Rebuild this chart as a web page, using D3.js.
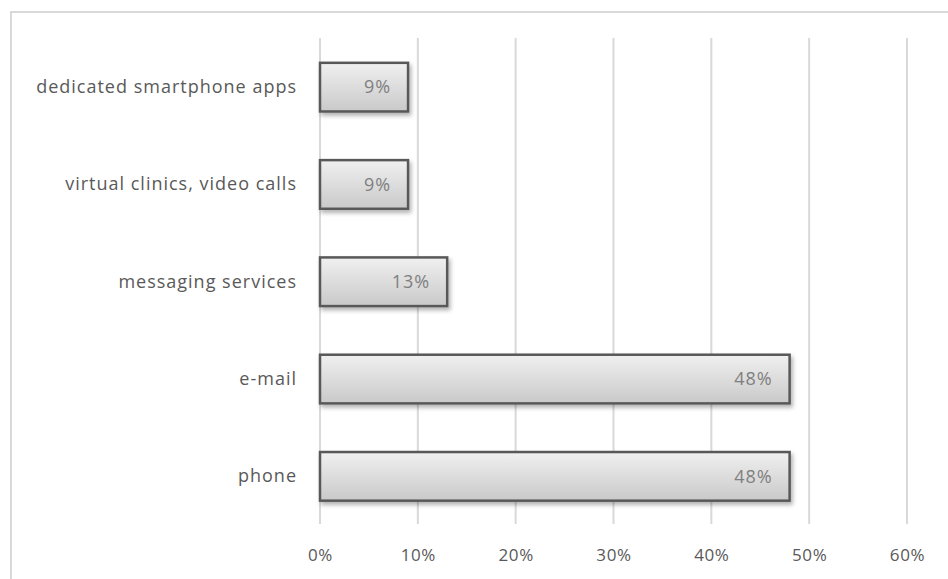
<!DOCTYPE html>
<html><head><meta charset="utf-8">
<script src="https://cdn.jsdelivr.net/npm/d3@7"></script>
<style>
html,body{margin:0;padding:0;background:#fff;overflow:hidden;}
svg{display:block;}
</style></head>
<body>
<script>
const categories = ["dedicated smartphone apps","virtual clinics, video calls","messaging services","e-mail","phone"];
const values = [9, 9, 13, 48, 48];
const tickValues = [0, 10, 20, 30, 40, 50, 60];
const valueLabels = ["9%","9%","13%","48%","48%"];

const W = 948, H = 579;
const svg = d3.select("body").append("svg").attr("width", W).attr("height", H);
const defs = svg.append("defs");
const grad = defs.append("linearGradient").attr("id","barGrad").attr("x1",0).attr("x2",0).attr("y1",0).attr("y2",1);
grad.append("stop").attr("offset","0%").attr("stop-color","#f0f0f0");
grad.append("stop").attr("offset","100%").attr("stop-color","#c9c9c9");
const f = defs.append("filter").attr("id","shadow").attr("x","-5%").attr("y","-20%").attr("width","115%").attr("height","160%");
f.append("feDropShadow").attr("dx",2).attr("dy",3).attr("stdDeviation",2).attr("flood-color","#000").attr("flood-opacity",0.3);

// outer frame
svg.append("rect").attr("x",11).attr("y",12).attr("width",W).attr("height",H)
  .attr("fill","none").attr("stroke","#d9d9d9").attr("stroke-width",2);

const x = d3.scaleLinear().domain([0,60]).range([320, 907]);
const y = d3.scaleBand().domain(categories).range([38.5, 525]).paddingInner(0.5).paddingOuter(0.25);

const font = "'Open Sans', sans-serif";

// gridlines
svg.append("g").selectAll("line").data(tickValues).join("line")
  .attr("x1", d => x(d)).attr("x2", d => x(d))
  .attr("y1", 38).attr("y2", 524)
  .attr("stroke", "#d9d9d9").attr("stroke-width", 2);

// x axis labels
const xAxis = d3.axisBottom(x).tickValues(tickValues).tickFormat(d => d + "%").tickSize(0);
const gx = svg.append("g").attr("transform", "translate(0,546)").call(xAxis);
gx.select(".domain").remove();
gx.selectAll("text").attr("fill","#595959").style("font-family",font).style("font-size","17px").style("letter-spacing","0.6px");

// y axis labels
const yAxis = d3.axisLeft(y).tickSize(0);
const gy = svg.append("g").attr("transform","translate(297,0)").call(yAxis);
gy.select(".domain").remove();
gy.selectAll("text").attr("fill","#595959").style("font-family",font).style("font-size","18px").style("letter-spacing","1px").attr("dy","0.32em").attr("x",0);

// bars
const bars = svg.append("g");
bars.selectAll("rect").data(categories).join("rect")
  .attr("x", x(0))
  .attr("y", d => y(d))
  .attr("width", (d,i) => x(values[i]) - x(0))
  .attr("height", y.bandwidth())
  .attr("fill", "url(#barGrad)")
  .attr("stroke", "#595959").attr("stroke-width", 2.5)
  .attr("filter", "url(#shadow)");

// value labels
svg.append("g").selectAll("text").data(categories).join("text")
  .attr("x", (d,i) => x(values[i]) - 17)
  .attr("y", d => y(d) + y.bandwidth()/2)
  .attr("dy","0.35em")
  .attr("text-anchor","end")
  .attr("fill","#7f7f7f")
  .style("font-family",font).style("font-size","18px").style("letter-spacing","1px")
  .text((d,i) => valueLabels[i]);
</script>
</body></html>
